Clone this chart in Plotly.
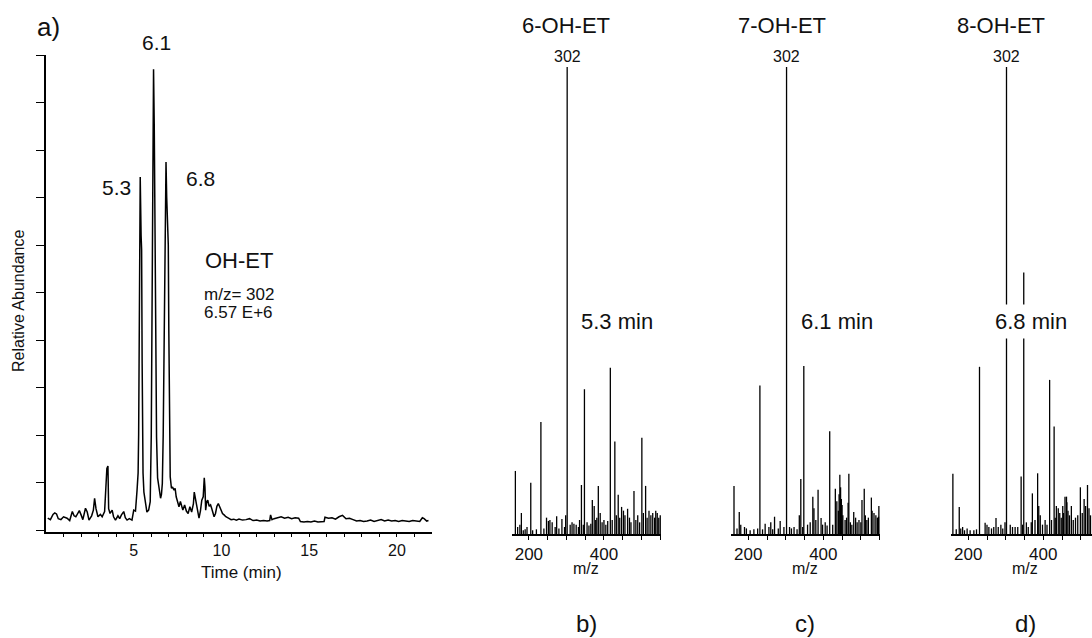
import plotly.graph_objects as go

# ---------------- data ----------------
# Chromatogram (panel a): retention time (min) and relative abundance (%)
chrom_time = [0.10, 0.25, 0.40, 0.50, 0.60, 0.70, 0.85, 1.00, 1.20, 1.35, 1.50, 1.60, 1.70, 1.80, 1.90,
              2.00, 2.10, 2.25, 2.35, 2.45, 2.60, 2.70, 2.77, 2.85, 2.96, 3.10, 3.20, 3.34, 3.43, 3.47,
              3.53, 3.57, 3.65, 3.77, 3.85, 3.96, 4.10, 4.20, 4.30, 4.43, 4.52, 4.62, 4.75, 4.90, 5.00,
              5.10, 5.19, 5.25, 5.28, 5.32, 5.37, 5.42, 5.45, 5.48, 5.50, 5.53, 5.58, 5.66, 5.75, 5.85,
              5.94, 6.00, 6.04, 6.09, 6.13, 6.17, 6.21, 6.24, 6.27, 6.30, 6.36, 6.44, 6.53, 6.58, 6.63,
              6.68, 6.72, 6.78, 6.84, 6.88, 6.92, 6.97, 7.00, 7.04, 7.08, 7.15, 7.22, 7.30, 7.36, 7.42,
              7.50, 7.58, 7.66, 7.72, 7.80, 7.90, 8.00, 8.10, 8.20, 8.30, 8.40, 8.45, 8.50, 8.58, 8.65,
              8.72, 8.80, 8.88, 8.96, 9.02, 9.06, 9.10, 9.16, 9.22, 9.30, 9.38, 9.45, 9.52, 9.58, 9.66,
              9.74, 9.82, 9.90, 9.98, 10.06, 10.15, 10.25, 10.40, 10.55, 10.70, 10.85, 11.0, 11.2, 11.4,
              11.6, 11.8, 12.0, 12.2, 12.4, 12.6, 12.75, 12.80, 12.88, 13.0, 13.2, 13.4, 13.6, 13.8, 14.0,
              14.2, 14.4, 14.5, 14.7, 14.9, 15.1, 15.3, 15.5, 15.7, 15.85, 15.9, 16.1, 16.3, 16.5, 16.7,
              16.9, 17.1, 17.3, 17.5, 17.7, 17.9, 18.1, 18.3, 18.5, 18.7, 18.9, 19.1, 19.3, 19.5, 19.7,
              19.9, 20.1, 20.3, 20.5, 20.7, 20.9, 21.1, 21.3, 21.45, 21.55, 21.7, 21.8]
chrom_abund = [2.5, 2.2, 3.3, 3.6, 3.4, 2.4, 2.2, 2.8, 2.5, 2.0, 3.9, 3.0, 2.8, 3.5, 4.1,
               3.2, 2.2, 4.6, 3.8, 2.1, 3.0, 4.2, 6.7, 4.5, 2.8, 3.3, 2.8, 3.9, 12.5, 13.0,
               13.5, 4.5, 3.5, 4.2, 2.8, 2.1, 3.0, 2.4, 3.2, 3.9, 2.6, 2.1, 2.4, 2.1, 4.2,
               4.0, 8.4, 12.0, 20.0, 61.0, 74.3, 62.0, 59.0, 35.0, 15.4, 12.0, 8.0, 6.0, 3.8, 4.2,
               6.0, 20.0, 55.0, 85.0, 97.0, 85.0, 60.0, 45.0, 22.0, 19.6, 11.0, 9.1, 6.7, 7.5, 9.8,
               20.0, 36.0, 58.6, 77.5, 70.0, 62.5, 60.0, 42.0, 19.0, 11.2, 8.8, 9.0, 8.4, 8.8, 7.0,
               6.0, 4.9, 6.0, 5.0, 4.2, 5.3, 4.0, 3.5, 4.9, 3.8, 5.5, 8.0, 7.0, 4.9, 3.5,
               2.5, 4.0, 6.3, 7.0, 11.0, 9.0, 4.2, 6.0, 6.3, 5.0, 5.3, 4.5, 3.8, 2.8, 3.5,
               5.0, 5.6, 4.9, 4.0, 3.5, 3.2, 2.8, 2.5, 2.2, 2.3, 2.1, 2.3, 2.1, 2.2,
               2.4, 2.0, 2.1, 1.9, 2.0, 1.9, 2.0, 3.2, 2.2, 2.4, 2.6, 2.8, 2.5, 2.7, 2.4,
               2.6, 2.5, 1.8, 1.7, 1.8, 1.7, 1.9, 1.7, 1.8, 1.8, 2.7, 2.5, 2.6, 2.3, 2.8,
               3.1, 2.4, 2.5, 2.2, 1.9, 2.0, 1.8, 1.9, 2.1, 1.8, 2.0, 2.2, 1.9, 2.1, 1.9,
               2.0, 1.8, 2.0, 1.9, 1.8, 2.0, 1.9, 1.8, 2.6, 2.4, 1.9, 2.0]
time_tick_vals = list(range(1, 22))
time_tick_text = ["5" if v == 5 else "10" if v == 10 else "15" if v == 15 else "20" if v == 20 else "" for v in time_tick_vals]
abund_tick_vals = [0, 10, 20, 30, 40, 50, 60, 70, 80, 90, 100]

# Mass spectra (panels b, c, d): m/z and relative intensity (%)
b_mz = [164, 180, 205, 232, 302, 340, 348, 369, 385, 417, 429, 438, 447, 463, 480, 501, 511,
        170, 176, 185, 190, 195, 210, 220, 240, 247, 252, 256, 262, 270, 274, 280, 288, 295, 298,
        310, 315, 320, 326, 332, 335, 345, 355, 360, 365, 374, 378, 381, 390, 395, 400, 405, 410,
        422, 433, 442, 452, 456, 468, 472, 485, 490, 495, 505, 515, 520, 525, 530, 535, 538, 542, 546, 550]
b_int = [13.5, 4.5, 11.0, 24.0, 100, 10.5, 31.0, 7.3, 10.3, 35.6, 19.8, 8.4, 5.8, 5.4, 9.2, 20.6, 10.3,
         1.5, 2.0, 0.8, 1.0, 1.5, 0.8, 1.0, 1.2, 3.5, 2.8, 3.0, 2.5, 1.5, 3.8, 1.2, 3.2, 1.5, 4.0,
         2.0, 2.5, 2.2, 2.0, 1.5, 3.0, 2.0, 2.5, 1.8, 2.2, 6.0, 3.0, 3.5, 4.5, 2.5, 3.0, 2.0, 2.8,
         3.0, 4.0, 3.5, 5.0, 4.0, 3.5, 2.5, 3.0, 4.0, 2.5, 4.5, 3.5, 5.0, 4.0, 4.5, 3.5, 5.0, 4.5, 3.5, 4.0]
c_mz = [162, 176, 231, 245, 270, 302, 340, 348, 372, 386, 394, 417, 432, 444, 450, 466, 468, 481, 503, 509, 528, 547,
        170, 180, 190, 195, 205, 215, 225, 238, 255, 260, 265, 280, 285, 295, 310, 315, 322, 330, 336, 345,
        358, 365, 375, 380, 398, 405, 410, 425, 436, 440, 442, 446, 448, 452, 458, 462, 472, 476, 486, 490,
        495, 500, 512, 516, 520, 530, 535, 540, 544, 548]
c_int = [10.3, 4.7, 31.8, 2.2, 3.7, 100, 11.8, 36.0, 8.0, 9.5, 3.4, 22.0, 9.7, 12.7, 6.2, 6.7, 12.9, 4.7, 7.3, 9.7, 7.8, 3.7,
         1.2, 2.0, 1.5, 1.2, 0.8, 1.0, 1.2, 1.0, 1.5, 2.5, 1.0, 1.2, 2.8, 1.5, 1.5, 1.2, 1.5, 1.0, 4.0, 1.5,
         2.0, 2.5, 5.5, 3.0, 2.0, 2.5, 1.8, 2.0, 7.0, 5.0, 8.5, 10.0, 7.5, 4.0, 3.0, 3.5, 2.5, 2.0, 3.5, 2.5,
         3.0, 2.5, 4.0, 3.0, 3.5, 5.0, 4.5, 4.0, 3.5, 6.0]
d_mz = [159, 176, 230, 245, 274, 287, 302, 341, 348, 371, 385, 417, 429, 435, 454, 463, 499, 509, 518,
        168, 180, 185, 190, 197, 205, 215, 222, 250, 255, 262, 268, 280, 292, 298, 312, 318, 325, 332,
        345, 355, 360, 368, 378, 388, 392, 398, 405, 410, 422, 432, 440, 444, 448, 452, 458, 462, 466,
        470, 475, 480, 486, 492, 504, 513, 522, 526]
d_int = [12.9, 5.8, 35.8, 2.4, 3.4, 2.0, 100, 12.3, 56.0, 8.7, 13.0, 33.0, 23.0, 6.0, 4.5, 6.8, 10.0, 7.5, 10.5,
         1.0, 1.2, 1.5, 0.8, 1.2, 0.8, 0.8, 1.0, 2.0, 1.5, 1.2, 1.5, 1.5, 1.2, 2.5, 2.0, 1.5, 1.5, 1.5,
         2.0, 2.5, 1.5, 2.5, 3.0, 6.0, 4.0, 2.0, 3.0, 2.0, 3.0, 3.5, 5.5, 4.5, 3.5, 6.0, 8.0, 8.0, 5.0,
         4.0, 6.0, 3.0, 3.5, 4.0, 4.5, 6.0, 5.5, 4.0]
mz_tick_vals = [200, 250, 300, 350, 400, 450, 500, 550]
mz_tick_text = ["200", "", "", "", "400", "", "", ""]

spectra = [
    ("6-OH-ET", "5.3 min", "b)", b_mz, b_int),
    ("7-OH-ET", "6.1 min", "c)", c_mz, c_int),
    ("8-OH-ET", "6.8 min", "d)", d_mz, d_int),
]

# ---------------- layout helpers ----------------
W, H = 1092, 638
FONT = "Liberation Sans, Arial, sans-serif"


def px(x):
    return x / W


def py(y):
    return (H - y) / H


def sticks(mz, inten):
    xs, ys = [], []
    for m, v in zip(mz, inten):
        xs += [m, m, None]
        ys += [0, v, None]
    return xs, ys


fig = go.Figure()

# panel a: chromatogram
fig.add_trace(go.Scatter(x=chrom_time, y=chrom_abund, mode="lines",
                         line=dict(color="black", width=1.5), xaxis="x", yaxis="y",
                         showlegend=False, hoverinfo="skip"))

# spectra panels: horizontal pixel spans (left, right) and m/z ranges
spec_dom = [(512, 661), (731, 880), (951, 1092)]
spec_rng = [(155, 552), (154, 551), (154, 530)]
for i, (name, rt, lab, mz, inten) in enumerate(spectra):
    k = i + 2
    xs, ys = sticks(mz, inten)
    fig.add_trace(go.Scatter(x=xs, y=ys, mode="lines", line=dict(color="black", width=1.3),
                             xaxis=f"x{k}", yaxis=f"y{k}", showlegend=False, hoverinfo="skip",
                             connectgaps=False))

layout = dict(
    width=W, height=H, margin=dict(l=0, r=0, t=0, b=0),
    paper_bgcolor="white", plot_bgcolor="white",
    font=dict(family=FONT, color="#111", size=17),
    showlegend=False,
    xaxis=dict(domain=[px(46), px(432)], range=[0, 22], anchor="y",
               showline=True, linecolor="black", linewidth=1.5, showgrid=False, zeroline=False,
               ticks="outside", ticklen=4, tickwidth=1.2, tickcolor="black",
               tickvals=time_tick_vals, ticktext=time_tick_text,
               tickfont=dict(size=16, family=FONT, color="#111"), ticklabelstandoff=0),
    yaxis=dict(domain=[py(531.5), py(55)], range=[-0.3, 100], anchor="x",
               showline=True, linecolor="black", linewidth=1.5, showgrid=False, zeroline=False,
               ticks="outside", ticklen=8, tickwidth=1.2, tickcolor="black",
               tickvals=abund_tick_vals, showticklabels=False),
)
for i in range(3):
    k = i + 2
    l, r = spec_dom[i]
    layout[f"xaxis{k}"] = dict(domain=[px(l), min(px(r), 1.0)], range=list(spec_rng[i]), anchor=f"y{k}",
                               showline=True, linecolor="black", linewidth=2, showgrid=False, zeroline=False,
                               ticks="outside", ticklen=4, tickwidth=1.2, tickcolor="black",
                               tickvals=mz_tick_vals, ticktext=mz_tick_text,
                               tickfont=dict(size=17, family=FONT, color="#111"), ticklabelstandoff=0)
    layout[f"yaxis{k}"] = dict(domain=[py(534), py(67)], range=[0, 100], anchor=f"x{k}", visible=False)
fig.update_layout(**layout)

ann = []


def text(x, y, s, size, xanchor="center", yanchor="middle", angle=0, bg=None, pad=1):
    d = dict(x=px(x), y=py(y), xref="paper", yref="paper", text=s, showarrow=False,
             font=dict(size=size, family=FONT, color="#111"), xanchor=xanchor, yanchor=yanchor,
             textangle=angle, borderpad=pad)
    if bg:
        d["bgcolor"] = bg
    ann.append(d)


# panel a texts
text(48, 27, "a)", 26)
text(156, 42, "6.1", 21)
text(116, 187, "5.3", 21)
text(200, 179, "6.8", 21)
text(239, 260, "OH-ET", 22)
text(202, 294, "m/z= 302", 17, xanchor="left")
text(202, 313, "6.57 E+6", 17, xanchor="left")
text(18, 301, "Relative Abundance", 16, angle=-90)
text(241, 572, "Time (min)", 17)

# spectra texts
title_x = [566, 782, 1001]
rt_x = [617, 837, 1031]
m_x = [586, 805, 1025]
for i, (name, rt, lab, mz, inten) in enumerate(spectra):
    k = i + 2
    text(title_x[i], 25, name, 22)
    ann.append(dict(x=302, y=100, xref=f"x{k}", yref=f"y{k}", text="302", showarrow=False,
                    font=dict(size=16, family=FONT, color="#111"), xanchor="center", yanchor="bottom",
                    yshift=0))
    text(rt_x[i], 321, rt, 22, bg="white" if i == 2 else None, pad=4)
    text(m_x[i], 568, "m/z", 16)
    text(m_x[i], 638, lab, 24, yanchor="bottom", pad=0)

fig.update_layout(annotations=ann)
fig.write_html("out.html", config={"displayModeBar": False},
               post_script="document.body.style.margin='0';document.body.style.overflow='hidden';")
